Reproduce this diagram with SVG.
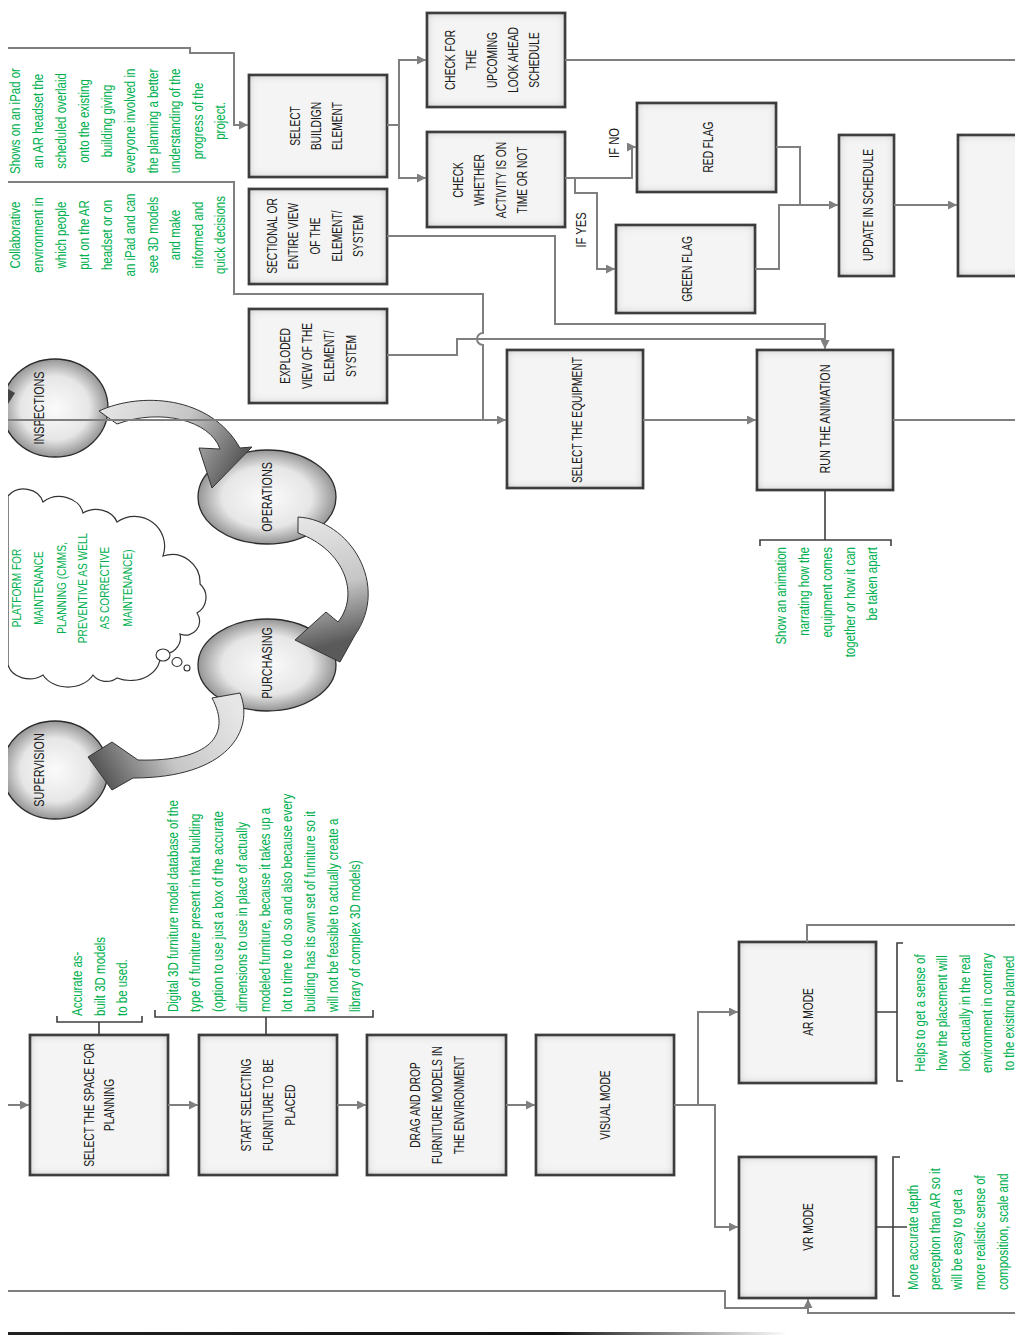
<svg xmlns="http://www.w3.org/2000/svg" width="1015" height="1336" viewBox="0 0 1015 1336">
<style>
.box{fill:#f4f4f4;stroke:#4a4a4a;stroke-width:2.6;filter:url(#ins)}
.bt{font-family:"Liberation Sans",Arial,sans-serif;font-size:13.8px;fill:#1a1a1a;text-anchor:middle;dominant-baseline:central}
.gt{font-family:"Liberation Sans",Arial,sans-serif;font-size:14px;fill:#00b050;dominant-baseline:central}
.ct{font-family:"Liberation Sans",Arial,sans-serif;font-size:13px;fill:#00b050;dominant-baseline:central;text-anchor:middle}
.gm{text-anchor:middle}.ge{text-anchor:end}.gs{text-anchor:start}
.cn{fill:none;stroke:#7f7f7f;stroke-width:2}
.br{fill:none;stroke:#3f3f3f;stroke-width:1.6}
.circ{fill:url(#rg);stroke:#2a2a2a;stroke-width:1.3}
.carrow{stroke:#333;stroke-width:1}
</style>
<defs>
<filter id="ins" x="-10%" y="-10%" width="120%" height="120%">
<feFlood flood-color="#000" flood-opacity="0.6" result="f"/>
<feComposite in="f" in2="SourceAlpha" operator="out" result="o"/>
<feGaussianBlur in="o" stdDeviation="5" result="b"/>
<feComposite in="b" in2="SourceAlpha" operator="in" result="s"/>
<feMerge><feMergeNode in="SourceGraphic"/><feMergeNode in="s"/></feMerge>
</filter>
<radialGradient id="rg" cx="50%" cy="50%" r="50%">
<stop offset="0" stop-color="#fbfbfb"/><stop offset="0.65" stop-color="#e6e6e6"/><stop offset="1" stop-color="#959595"/>
</radialGradient>
<linearGradient id="ga1" gradientUnits="userSpaceOnUse" x1="100" y1="410" x2="228" y2="482"><stop offset="0" stop-color="#e6e6e6"/><stop offset="0.55" stop-color="#c6c6c6"/><stop offset="1" stop-color="#5a5a5a"/></linearGradient>
<linearGradient id="ga2" gradientUnits="userSpaceOnUse" x1="300" y1="520" x2="330" y2="645"><stop offset="0" stop-color="#e6e6e6"/><stop offset="0.55" stop-color="#c6c6c6"/><stop offset="1" stop-color="#5a5a5a"/></linearGradient>
<linearGradient id="ga3" gradientUnits="userSpaceOnUse" x1="228" y1="695" x2="100" y2="768"><stop offset="0" stop-color="#e6e6e6"/><stop offset="0.55" stop-color="#c6c6c6"/><stop offset="1" stop-color="#5a5a5a"/></linearGradient>
<linearGradient id="fade" x1="0" y1="0" x2="1" y2="0"><stop offset="0" stop-color="#222"/><stop offset="0.7" stop-color="#111"/><stop offset="1" stop-color="#111" stop-opacity="0"/></linearGradient>
<clipPath id="lclip"><rect x="8" y="0" width="1007" height="1336"/></clipPath>
<marker id="ah" viewBox="0 0 10 10" refX="10" refY="5" markerWidth="9" markerHeight="9" markerUnits="userSpaceOnUse" orient="auto"><path d="M0,0 L10,5 L0,10 z" fill="#7f7f7f"/></marker>
</defs>
<rect width="1015" height="1336" fill="#fff"/>

<g id="note-ipad">
<text class="gt gm" transform="translate(0,121) rotate(-90) scale(0.82,1)"><tspan x="0" y="15">Shows on an iPad or</tspan><tspan x="0" y="38">an AR headset the</tspan><tspan x="0" y="61">scheduled overlaid</tspan><tspan x="0" y="84">onto the existing</tspan><tspan x="0" y="107">building giving</tspan><tspan x="0" y="130">everyone involved in</tspan><tspan x="0" y="153">the planning a better</tspan><tspan x="0" y="175">understanding of the</tspan><tspan x="0" y="198">progress of the</tspan><tspan x="0" y="220">project.</tspan></text>
</g>
<g id="note-collab">
<text class="gt gm" transform="translate(0,235) rotate(-90) scale(0.82,1)"><tspan x="0" y="15">Collaborative</tspan><tspan x="0" y="38">environment in</tspan><tspan x="0" y="61">which people</tspan><tspan x="0" y="84">put on the AR</tspan><tspan x="0" y="107">headset or on</tspan><tspan x="0" y="130">an iPad and can</tspan><tspan x="0" y="153">see 3D models</tspan><tspan x="0" y="175">and make</tspan><tspan x="0" y="198">informed and</tspan><tspan x="0" y="220">quick decisions</tspan></text>
</g>

<g id="cloud" clip-path="url(#lclip)">
<path d="M8,496 A20,18 0 0 1 43,502 A24,20 0 0 1 83,513 A22,18 0 0 1 117,522 A30,30 0 0 1 163,556 A28,28 0 0 1 200,584 A18,18 0 0 1 197,613 A14,14 0 0 1 180,634 A16,16 0 0 1 160,653 A30,24 0 0 1 117,678 A16,14 0 0 1 93,675 A28,22 0 0 1 43,675 A22,18 0 0 1 8,665 Z" fill="#fff" stroke="#333" stroke-width="1.2"/>
<ellipse cx="163" cy="655" rx="7" ry="6" fill="#fff" stroke="#333" stroke-width="1.1"/>
<ellipse cx="177" cy="662" rx="5" ry="4.5" fill="#fff" stroke="#333" stroke-width="1.1"/>
<ellipse cx="187" cy="668" rx="3" ry="3" fill="#fff" stroke="#333" stroke-width="1.1"/>
<text class="ct" transform="translate(0,588) rotate(-90) scale(0.78,1)"><tspan x="0" y="15">PLATFORM FOR</tspan><tspan x="0" y="37">MAINTENANCE</tspan><tspan x="0" y="60">PLANNING (CMMS,</tspan><tspan x="0" y="81">PREVENTIVE AS WELL</tspan><tspan x="0" y="103">AS CORRECTIVE</tspan><tspan x="0" y="126">MAINTENANCE)</tspan></text>
</g>

<g id="n-inspections" clip-path="url(#lclip)">
<ellipse class="circ" cx="55" cy="408" rx="53" ry="49"/>
<text class="bt" transform="translate(40,408) rotate(-90) scale(0.78,1)">INSPECTIONS</text>
</g>
<g id="n-supervision" clip-path="url(#lclip)">
<ellipse class="circ" cx="55" cy="770" rx="53" ry="49"/>
<text class="bt" transform="translate(40,770) rotate(-90) scale(0.78,1)">SUPERVISION</text>
</g>
<g id="n-operations">
<ellipse class="circ" cx="267" cy="497" rx="69" ry="47"/>
<text class="bt" transform="translate(268,497) rotate(-90) scale(0.78,1)">OPERATIONS</text>
</g>
<g id="n-purchasing">
<ellipse class="circ" cx="267" cy="665" rx="69" ry="46"/>
<text class="bt" transform="translate(268,663) rotate(-90) scale(0.78,1)">PURCHASING</text>
</g>

<g id="cycle-arrows">
<path class="carrow" fill="url(#ga1)" d="M99,411 C140,392 210,395 240,448 L252,447 L212,488 L199,448 L220,449 C210,420 160,408 117,424 Z"/>
<path class="carrow" fill="url(#ga2)" d="M298,517 C350,520 390,585 355,635 L340,662 L295,640 L326,612 L338,622 C360,595 345,550 298,533 Z"/>
<path class="carrow" fill="url(#ga3)" d="M212,698 L240,693 C255,730 228,778 133,778 L112,790 L88,757 L112,742 L138,760 C210,762 232,735 212,698 Z"/>
<polygon points="8,389 15,393 8,404" fill="#444"/>
</g>

<g id="n-select-building"><rect class="box" x="249" y="75" width="138" height="102"/>
<text class="bt" transform="translate(316,126) rotate(-90) scale(0.74,1)"><tspan x="0" y="-21">SELECT</tspan><tspan x="0" y="0">BUILDIGN</tspan><tspan x="0" y="21">ELEMENT</tspan></text></g>
<g id="n-sectional"><rect class="box" x="249" y="189" width="138" height="95"/>
<text class="bt" transform="translate(315,236) rotate(-90) scale(0.74,1)"><tspan x="0" y="-43">SECTIONAL OR</tspan><tspan x="0" y="-22">ENTIRE VIEW</tspan><tspan x="0" y="0">OF THE</tspan><tspan x="0" y="22">ELEMENT/</tspan><tspan x="0" y="43">SYSTEM</tspan></text></g>
<g id="n-exploded"><rect class="box" x="249" y="309" width="138" height="94"/>
<text class="bt" transform="translate(318,356) rotate(-90) scale(0.74,1)"><tspan x="0" y="-33">EXPLODED</tspan><tspan x="0" y="-11">VIEW OF THE</tspan><tspan x="0" y="11">ELEMENT/</tspan><tspan x="0" y="33">SYSTEM</tspan></text></g>
<g id="n-check-lookahead"><rect class="box" x="427" y="13" width="138" height="94"/>
<text class="bt" transform="translate(492,60) rotate(-90) scale(0.74,1)"><tspan x="0" y="-42">CHECK FOR</tspan><tspan x="0" y="-21">THE</tspan><tspan x="0" y="0">UPCOMING</tspan><tspan x="0" y="21">LOOK AHEAD</tspan><tspan x="0" y="42">SCHEDULE</tspan></text></g>
<g id="n-check-ontime"><rect class="box" x="427" y="132" width="138" height="95"/>
<text class="bt" transform="translate(490,180) rotate(-90) scale(0.74,1)"><tspan x="0" y="-32">CHECK</tspan><tspan x="0" y="-11">WHETHER</tspan><tspan x="0" y="11">ACTIVITY IS ON</tspan><tspan x="0" y="32">TIME OR NOT</tspan></text></g>
<g id="n-red-flag"><rect class="box" x="637" y="103" width="139" height="89"/>
<text class="bt" transform="translate(708,147) rotate(-90) scale(0.74,1)">RED FLAG</text></g>
<g id="n-green-flag"><rect class="box" x="616" y="225" width="139" height="88"/>
<text class="bt" transform="translate(687,269) rotate(-90) scale(0.74,1)">GREEN FLAG</text></g>
<g id="n-update"><rect class="box" x="839" y="135" width="55" height="141"/>
<text class="bt" transform="translate(868,205) rotate(-90) scale(0.74,1)">UPDATE IN SCHEDULE</text></g>
<g id="n-empty"><rect class="box" x="958" y="135" width="90" height="141"/></g>
<g id="n-select-equipment"><rect class="box" x="507" y="350" width="136" height="138"/>
<text class="bt" transform="translate(577,420) rotate(-90) scale(0.74,1)">SELECT THE EQUIPMENT</text></g>
<g id="n-run-animation"><rect class="box" x="757" y="350" width="136" height="140"/>
<text class="bt" transform="translate(826,419) rotate(-90) scale(0.78,1)">RUN THE ANIMATION</text></g>
<g id="n-select-space"><rect class="box" x="30" y="1035" width="138" height="140"/>
<text class="bt" transform="translate(99,1105) rotate(-90) scale(0.74,1)"><tspan x="0" y="-10">SELECT THE SPACE FOR</tspan><tspan x="0" y="10">PLANNING</tspan></text></g>
<g id="n-start-selecting"><rect class="box" x="199" y="1035" width="138" height="140"/>
<text class="bt" transform="translate(268,1105) rotate(-90) scale(0.74,1)"><tspan x="0" y="-22">START SELECTING</tspan><tspan x="0" y="0">FURNITURE TO BE</tspan><tspan x="0" y="22">PLACED</tspan></text></g>
<g id="n-drag-drop"><rect class="box" x="367" y="1035" width="139" height="140"/>
<text class="bt" transform="translate(437,1105) rotate(-90) scale(0.74,1)"><tspan x="0" y="-22">DRAG AND DROP</tspan><tspan x="0" y="0">FURNITURE MODELS IN</tspan><tspan x="0" y="22">THE ENVIRONMENT</tspan></text></g>
<g id="n-visual-mode"><rect class="box" x="536" y="1035" width="138" height="140"/>
<text class="bt" transform="translate(605,1105) rotate(-90) scale(0.74,1)">VISUAL MODE</text></g>
<g id="n-ar-mode"><rect class="box" x="739" y="942" width="137" height="141"/>
<text class="bt" transform="translate(808,1012) rotate(-90) scale(0.74,1)">AR MODE</text></g>
<g id="n-vr-mode"><rect class="box" x="739" y="1157" width="137" height="141"/>
<text class="bt" transform="translate(808,1227) rotate(-90) scale(0.74,1)">VR MODE</text></g>

<g id="note-animation">
<text class="gt ge" transform="translate(0,547) rotate(-90) scale(0.82,1)"><tspan x="0" y="781">Show an animation</tspan><tspan x="0" y="804">narrating how the</tspan><tspan x="0" y="827">equipment comes</tspan><tspan x="0" y="850">together or how it can</tspan><tspan x="0" y="872">be taken apart</tspan></text>
</g>
<g id="note-asbuilt">
<text class="gt gs" transform="translate(0,1016) rotate(-90) scale(0.82,1)"><tspan x="0" y="77">Accurate as-</tspan><tspan x="0" y="100">built 3D models</tspan><tspan x="0" y="122">to be used.</tspan></text>
</g>
<g id="note-furniture">
<text class="gt gs" transform="translate(0,1012) rotate(-90) scale(0.82,1)"><tspan x="0" y="173">Digital 3D furniture model database of the</tspan><tspan x="0" y="195">type of furniture present in that building</tspan><tspan x="0" y="218">(option to use just a box of the accurate</tspan><tspan x="0" y="242">dimensions to use in place of actually</tspan><tspan x="0" y="265">modeled furniture, because it takes up a</tspan><tspan x="0" y="287">lot to time to do so and also because every</tspan><tspan x="0" y="310">building has its own set of furniture so it</tspan><tspan x="0" y="333">will not be feasible to actually create a</tspan><tspan x="0" y="355">library of complex 3D models)</tspan></text>
</g>
<g id="note-ar">
<text class="gt gm" transform="translate(0,1013) rotate(-90) scale(0.82,1)"><tspan x="0" y="920">Helps to get a sense of</tspan><tspan x="0" y="942">how the placement will</tspan><tspan x="0" y="965">look actually in the real</tspan><tspan x="0" y="987">environment in contrary</tspan><tspan x="0" y="1009">to the existing planned</tspan></text>
</g>
<g id="note-vr">
<text class="gt gs" transform="translate(0,1290) rotate(-90) scale(0.82,1)"><tspan x="0" y="913">More accurate depth</tspan><tspan x="0" y="935">perception than AR so it</tspan><tspan x="0" y="957">will be easy to get a</tspan><tspan x="0" y="980">more realistic sense of</tspan><tspan x="0" y="1003">composition, scale and</tspan></text>
</g>

<g id="labels">
<text class="bt" transform="translate(615,143) rotate(-90) scale(0.8,1)" style="font-size:14px">IF NO</text>
<text class="bt" transform="translate(582,230) rotate(-90) scale(0.8,1)" style="font-size:14px">IF YES</text>
</g>

<g id="connectors">
<path class="cn" d="M8,48 H190 V53 H234 V125 H248" marker-end="url(#ah)"/>
<path class="cn" d="M8,182 H234 V294 H483 V333 A6,6 0 0 0 483,345 V420"/>
<path class="cn" d="M8,420 H506" marker-end="url(#ah)"/>
<path class="cn" d="M387,125 H399 V60 H426" marker-end="url(#ah)"/>
<path class="cn" d="M399,125 V178 H426" marker-end="url(#ah)"/>
<path class="cn" d="M565,60 H1015"/>
<path class="cn" d="M565,178 H632 V147 H636" marker-end="url(#ah)"/>
<path class="cn" d="M575,178 V193 H597 V269 H615" marker-end="url(#ah)"/>
<path class="cn" d="M776,147 H800 V205"/>
<path class="cn" d="M755,269 H779 V205 H838" marker-end="url(#ah)"/>
<path class="cn" d="M894,205 H957" marker-end="url(#ah)"/>
<path class="cn" d="M387,236 H555 V324 H825 V349" marker-end="url(#ah)"/>
<path class="cn" d="M387,355 H457 V339 H825"/>
<path class="cn" d="M643,420 H756" marker-end="url(#ah)"/>
<path class="cn" d="M893,420 H1015"/>
<path class="cn" d="M8,1105 H29" marker-end="url(#ah)"/>
<path class="cn" d="M168,1105 H198" marker-end="url(#ah)"/>
<path class="cn" d="M337,1105 H366" marker-end="url(#ah)"/>
<path class="cn" d="M506,1105 H535" marker-end="url(#ah)"/>
<path class="cn" d="M674,1105 H715 V1227 H738" marker-end="url(#ah)"/>
<path class="cn" d="M698,1105 V1012 H738" marker-end="url(#ah)"/>
<path class="cn" d="M807,942 V925 H1015"/>
<path class="cn" d="M8,1291 H725 V1308 H808"/>
<path class="cn" d="M1015,1313 H808 V1299" marker-end="url(#ah)"/>
<path class="br" d="M825,490 V540 M760,546 V540 H891 V546"/>
<path class="br" d="M876,1012 H897 M903,943 H897 V1081 H903"/>
<path class="br" d="M876,1227 H907 M900,1157 H893 V1296 H900"/>
<path class="br" d="M99,1035 V1022 M57,1016 V1022 H142 V1016"/>
<path class="br" d="M266,1035 V1017 M155,1010 V1017 H373 V1010"/>
</g>
<rect x="8" y="1332" width="780" height="3" fill="url(#fade)"/>
</svg>
